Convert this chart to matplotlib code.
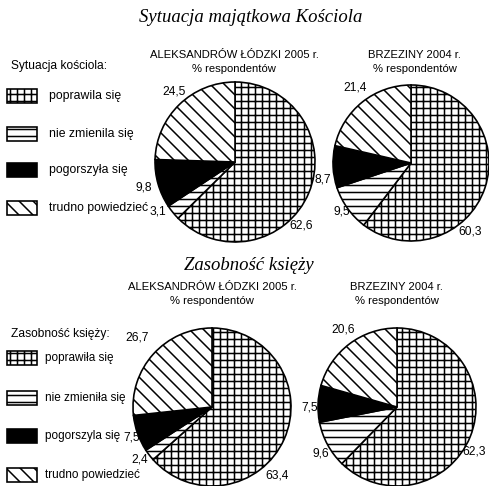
import matplotlib
matplotlib.use("Agg")
import matplotlib.pyplot as plt
from matplotlib.patches import Rectangle

# --- data ---
labels_sytuacja = ["poprawila się", "nie zmienila się", "pogorszyła się", "trudno powiedzieć"]
labels_zasobnosc = ["poprawiła się", "nie zmieniła się", "pogorszyla się", "trudno powiedzieć"]
sytuacja_aleksandrow = [62.6, 3.1, 9.8, 24.5]
sytuacja_brzeziny = [60.3, 9.5, 8.7, 21.4]
zasobnosc_aleksandrow = [63.4, 2.4, 7.5, 26.7]
zasobnosc_brzeziny = [62.3, 9.6, 7.5, 20.6]
value_text = lambda v: f"{v:.1f}".replace(".", ",")

W, H, DPI = 489, 486, 84
px = lambda p: p * 72 / DPI          # pixel size -> points
Y = lambda y: H - y                  # image row -> data y

hatches = ["++", "--", None, "\\\\"]
faces = ["white", "white", "black", "white"]

plt.rcParams["hatch.linewidth"] = 1.3
plt.rcParams["font.family"] = ["Liberation Sans", "DejaVu Sans"]

fig = plt.figure(figsize=(W / DPI, H / DPI), dpi=DPI)
ax = fig.add_axes([0, 0, 1, 1])


def draw_pie(values, cx, cy, r, label_pos):
    wedges, _ = ax.pie(values, center=(cx, Y(cy)), radius=r, startangle=90,
                       counterclock=False, colors=faces,
                       wedgeprops=dict(edgecolor="black", linewidth=1.4))
    for w, h in zip(wedges, hatches):
        if h:
            w.set_hatch(h)
    for v, (tx, ty) in zip(values, label_pos):
        ax.text(tx, Y(ty), value_text(v), fontsize=px(12), ha="center", va="center")


def header(text, cx, y):
    ax.text(cx, Y(y), text, fontsize=px(11.2), ha="center", va="center")
    ax.text(cx, Y(y + 14), "% respondentów", fontsize=px(11.2), ha="center", va="center")


def legend(title, labels, y_title, ys, text_x, size):
    ax.text(11, Y(y_title), title, fontsize=px(12), ha="left", va="center")
    for lab, y, h, f in zip(labels, ys, hatches, faces):
        ax.add_patch(Rectangle((7, Y(y) - 7), 30, 14, facecolor=f, edgecolor="black",
                               hatch=h, linewidth=1.4))
        ax.text(text_x, Y(y), lab, fontsize=px(size), ha="left", va="center")


title_font = dict(family="Liberation Serif", style="italic", fontsize=px(18.8),
                  ha="center", va="center")

# top block
ax.text(251, Y(18), "Sytuacja majątkowa Kościola", **title_font)
header("ALEKSANDRÓW ŁÓDZKI 2005 r.", 234, 55)
header("BRZEZINY 2004 r.", 415, 55)
legend("Sytuacja kościola:", labels_sytuacja, 66, [96, 133.5, 170, 208], 49, 12.2)
draw_pie(sytuacja_aleksandrow, 235, 162, 80,
         [(301, 226), (158, 212), (144, 188), (174, 92)])
draw_pie(sytuacja_brzeziny, 411, 163, 78,
         [(470, 231), (342, 212), (323, 180), (355, 87)])

# bottom block
ax.text(249, Y(265), "Zasobność księży", **title_font)
header("ALEKSANDRÓW ŁÓDZKI 2005 r.", 212, 287)
header("BRZEZINY 2004 r.", 397, 287)
legend("Zasobność księży:", labels_zasobnosc, 334, [358, 397.5, 436, 475], 45, 11.8)
draw_pie(zasobnosc_aleksandrow, 212, 407, 79,
         [(277, 475), (140, 459), (132, 437), (137, 338)])
draw_pie(zasobnosc_brzeziny, 397, 407, 79,
         [(474, 452), (321, 453), (310, 407), (343, 330)])

ax.set_xlim(0, W)
ax.set_ylim(0, H)
ax.set_aspect("auto")
ax.axis("off")

fig.savefig("out.png", dpi=DPI, facecolor="white")
